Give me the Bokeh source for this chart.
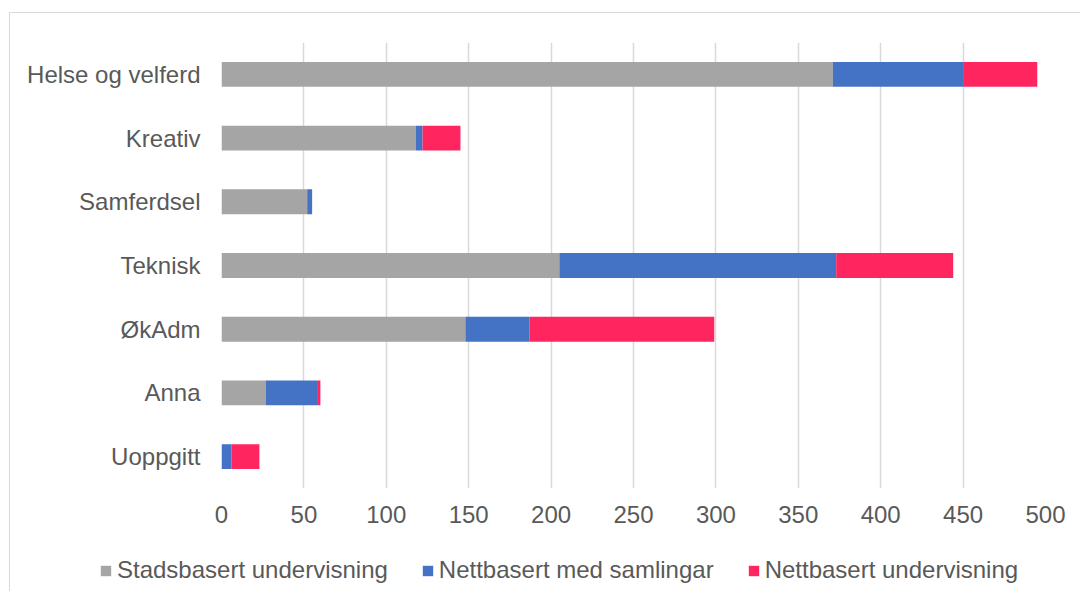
from bokeh.plotting import figure
from bokeh.layouts import column
from bokeh.models import ColumnDataSource, FactorRange, Range1d, Legend, LegendItem, FixedTicker
from bokeh.embed import file_html
from bokeh.resources import INLINE

categories = ["Helse og velferd", "Kreativ", "Samferdsel", "Teknisk", "ØkAdm", "Anna", "Uoppgitt"]
stadsbasert = [371, 118, 52, 205, 148, 27, 0]
nett_samlingar = [79, 4, 3, 168, 39, 31, 6]
nettbasert = [45, 23, 0, 71, 112, 2, 17]
series_names = ["Stadsbasert undervisning", "Nettbasert med samlingar", "Nettbasert undervisning"]
colors = ["#A5A5A5", "#4472C4", "#FF2660"]
x_ticks = [0, 50, 100, 150, 200, 250, 300, 350, 400, 450, 500]

FONT = "Liberation Sans"
TEXT_COLOR = "#595959"

source = ColumnDataSource(dict(cat=categories, s=stadsbasert, m=nett_samlingar, n=nettbasert))

p = figure(
    y_range=FactorRange(*reversed(categories)),
    x_range=Range1d(0, 500),
    width=1070, height=530,
    output_backend="svg", toolbar_location=None,
    min_border_left=211, min_border_right=35, min_border_top=29, min_border_bottom=55,
)
p.frame_align = False
p.outline_line_color = None
p.background_fill_color = "white"
p.border_fill_color = "white"

rs = p.hbar_stack(["s", "m", "n"], y="cat", height=0.39, color=colors, source=source, line_color=None)

p.xgrid.grid_line_color = "#d9d9d9"
p.xgrid.grid_line_width = 1.5
p.ygrid.grid_line_color = None
p.xaxis.ticker = FixedTicker(ticks=x_ticks)

for ax in (p.xaxis[0], p.yaxis[0]):
    ax.axis_line_color = None
    ax.major_tick_line_color = None
    ax.minor_tick_line_color = None
    ax.major_tick_out = 0
    ax.major_tick_in = 0
    ax.minor_tick_out = 0
    ax.major_label_text_font = FONT
    ax.major_label_text_font_size = "24px"
    ax.major_label_text_color = TEXT_COLOR
p.xaxis.major_label_standoff = 17
p.yaxis.major_label_standoff = 21

# legend strip (separate figure so the legend is not clipped by the chart frame)
p2 = figure(
    width=1070, height=48, x_range=Range1d(0, 1), y_range=Range1d(0, 1),
    output_backend="svg", toolbar_location=None, min_border=0,
    x_axis_location=None, y_axis_location=None,
)
p2.frame_align = False
p2.outline_line_color = None
p2.grid.visible = False
nan = float("nan")
proxies = [p2.hbar(y=[nan], right=[nan], height=0.5, fill_color=c, line_color=None) for c in colors]

legend = Legend(
    items=[LegendItem(label=n, renderers=[r]) for n, r in zip(series_names, proxies)],
    orientation="horizontal",
    location=(89, 7),
    glyph_width=13, glyph_height=13,
    label_standoff=5, spacing=33,
    padding=0, margin=0,
    border_line_color=None, background_fill_alpha=0,
    label_text_font=FONT, label_text_font_size="24px", label_text_color=TEXT_COLOR,
)
p2.add_layout(legend, "center")

layout = column(p, p2, spacing=0)
layout.styles = {"border-left": "1px solid #d9d9d9", "border-top": "1px solid #d9d9d9",
                 "position": "relative", "top": "12px", "left": "9px"}

open("out.html", "w").write(file_html(layout, INLINE))
